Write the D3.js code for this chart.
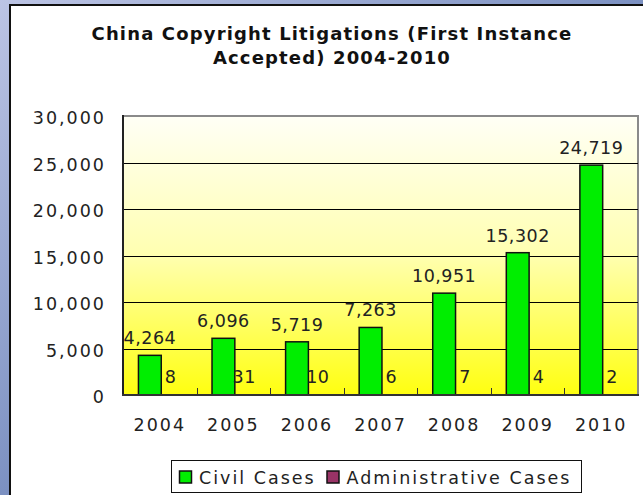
<!DOCTYPE html>
<html lang="en">
<head>
<meta charset="utf-8">
<title>China Copyright Litigations</title>
<script src="https://d3js.org/d3.v7.min.js"></script>
<style>
  body { margin: 0; padding: 0; overflow: hidden; }
  text { font-family: "DejaVu Sans", Verdana, sans-serif; fill: #222; }
</style>
</head>
<body>
<script type="text/javascript">

// data
var years = ["2004", "2005", "2006", "2007", "2008", "2009", "2010"];
var civilCases = [4264, 6096, 5719, 7263, 10951, 15302, 24719];
var adminCases = [8, 31, 10, 6, 7, 4, 2];
var seriesNames = ["Civil Cases", "Administrative Cases"];
var seriesColors = ["#00ee00", "#993366"];
var yTicks = [0, 5000, 10000, 15000, 20000, 25000, 30000];
var titleLines = ["China Copyright Litigations (First Instance", "Accepted) 2004-2010"];

var w = 643, h = 495;
var plotL = 123, plotR = 638, plotT = 116, plotB = 395;

var svg = d3.select("body").append("svg").attr("width", w).attr("height", h);
var defs = svg.append("defs");

// background gradients
var bg = defs.append("linearGradient").attr("id", "bg")
  .attr("x1", 0).attr("y1", 0).attr("x2", 1).attr("y2", 1);
bg.append("stop").attr("offset", "0%").attr("stop-color", "#bcc4e4");
bg.append("stop").attr("offset", "100%").attr("stop-color", "#3c5ea0");

var pg = defs.append("linearGradient").attr("id", "plotbg")
  .attr("x1", 0).attr("y1", 0).attr("x2", 0).attr("y2", 1);
pg.append("stop").attr("offset", "0%").attr("stop-color", "#fffff6");
pg.append("stop").attr("offset", "50%").attr("stop-color", "#ffffb0");
pg.append("stop").attr("offset", "100%").attr("stop-color", "#ffff10");

svg.append("rect").attr("width", w).attr("height", h).attr("fill", "url(#bg)");

// white panel
svg.append("rect").attr("x", 10).attr("y", 5).attr("width", w).attr("height", h)
  .attr("fill", "#fff").attr("stroke", "#111").attr("stroke-width", 2);

// title
svg.append("g").selectAll("text").data(titleLines).enter().append("text")
  .attr("x", 332).attr("y", function(d, i) { return 40 + i * 24; })
  .attr("text-anchor", "middle")
  .style("font-size", "18px").style("font-weight", "bold").style("fill", "#111")
  .style("letter-spacing", "1.15px")
  .text(function(d) { return d; });

// scales
var xScale = d3.scaleBand().domain(years).range([plotL, plotR]);
var yScale = d3.scaleLinear().domain([0, 30000]).range([plotB, plotT]);
var bw = xScale.bandwidth();
var barW = bw * 0.31, barOff = bw * 0.21;

// plot area
svg.append("rect").attr("x", plotL).attr("y", plotT)
  .attr("width", plotR - plotL).attr("height", plotB - plotT)
  .attr("fill", "url(#plotbg)").attr("stroke", "#8a8a8a").attr("stroke-width", 2);

// gridlines
svg.append("g").selectAll("line").data(yTicks.filter(function(d) { return d > 0 && d < 30000; }))
  .enter().append("line")
  .attr("x1", plotL).attr("x2", plotR)
  .attr("y1", function(d) { return Math.round(yScale(d)) + 0.5; })
  .attr("y2", function(d) { return Math.round(yScale(d)) + 0.5; })
  .attr("stroke", "#000").attr("stroke-width", 1);

// y axis labels
var yAxis = d3.axisLeft(yScale).tickValues(yTicks).tickSize(0).tickPadding(17)
  .tickFormat(d3.format(","));
var gy = svg.append("g").attr("transform", "translate(" + plotL + ",0)").call(yAxis);
gy.select(".domain").remove();
gy.selectAll("text").style("font-size", "17.5px").style("letter-spacing", "2px")
  .style("font-family", "DejaVu Sans").attr("fill", "#222").attr("dy", "0.45em");

// x axis labels
var xAxis = d3.axisBottom(xScale).tickSize(0).tickPadding(24);
var gx = svg.append("g").attr("transform", "translate(0," + plotB + ")").call(xAxis);
gx.select(".domain").remove();
gx.selectAll("text").style("font-size", "17.5px").style("letter-spacing", "2px")
  .style("font-family", "DejaVu Sans").attr("fill", "#222");

// inner tick marks between categories
svg.append("g").selectAll("line").data(years.slice(1)).enter().append("line")
  .attr("x1", function(d) { return Math.round(xScale(d)) + 0.5; })
  .attr("x2", function(d) { return Math.round(xScale(d)) + 0.5; })
  .attr("y1", plotB).attr("y2", plotB - 7)
  .attr("stroke", "#333").attr("stroke-width", 1);

// bars
svg.append("g").selectAll("rect").data(civilCases).enter().append("rect")
  .attr("x", function(d, i) { return xScale(years[i]) + barOff; })
  .attr("y", function(d) { return yScale(d); })
  .attr("width", barW)
  .attr("height", function(d) { return plotB - yScale(d); })
  .attr("fill", seriesColors[0]).attr("stroke", "#111").attr("stroke-width", 1.5);

svg.append("g").selectAll("rect").data(adminCases).enter().append("rect")
  .attr("x", function(d, i) { return xScale(years[i]) + barOff + barW; })
  .attr("y", function(d) { return yScale(d); })
  .attr("width", barW)
  .attr("height", function(d) { return plotB - yScale(d); })
  .attr("fill", seriesColors[1]).attr("stroke", "#111").attr("stroke-width", 0.5);

// axis lines
svg.append("line").attr("x1", plotL).attr("x2", plotL).attr("y1", plotT - 1).attr("y2", plotB + 1)
  .attr("stroke", "#222").attr("stroke-width", 2);
svg.append("line").attr("x1", plotL - 1).attr("x2", plotR + 1).attr("y1", plotB).attr("y2", plotB)
  .attr("stroke", "#333").attr("stroke-width", 2);

// data labels
var fmt = d3.format(",");
svg.append("g").selectAll("text").data(civilCases).enter().append("text")
  .attr("x", function(d, i) { return xScale(years[i]) + barOff + barW / 2; })
  .attr("y", function(d) { return yScale(d) - 11; })
  .attr("text-anchor", "middle")
  .style("font-size", "17.5px").style("letter-spacing", "0.5px")
  .text(function(d) { return fmt(d); });

svg.append("g").selectAll("text").data(adminCases).enter().append("text")
  .attr("x", function(d, i) { return xScale(years[i]) + barOff + barW * 1.5 - 2; })
  .attr("y", function(d) { return yScale(d) - 12; })
  .attr("text-anchor", "middle")
  .style("font-size", "17.5px").style("letter-spacing", "0.5px")
  .text(function(d) { return fmt(d); });

// legend
var legend = svg.append("g");
legend.append("rect").attr("x", 171.5).attr("y", 460.5).attr("width", 410).attr("height", 32)
  .attr("fill", "#fff").attr("stroke", "#111").attr("stroke-width", 1);
var legX = [179.5, 327];
legend.selectAll("rect.sw").data(seriesNames).enter().append("rect").attr("class", "sw")
  .attr("x", function(d, i) { return legX[i]; }).attr("y", 471)
  .attr("width", 12).attr("height", 12)
  .attr("fill", function(d, i) { return seriesColors[i]; })
  .attr("stroke", "#111").attr("stroke-width", 1.5);
legend.selectAll("text").data(seriesNames).enter().append("text")
  .attr("x", function(d, i) { return legX[i] + 19.5; }).attr("y", 484)
  .style("font-size", "17.5px").style("letter-spacing", "2px")
  .text(function(d) { return d; });

</script>
</body>
</html>
